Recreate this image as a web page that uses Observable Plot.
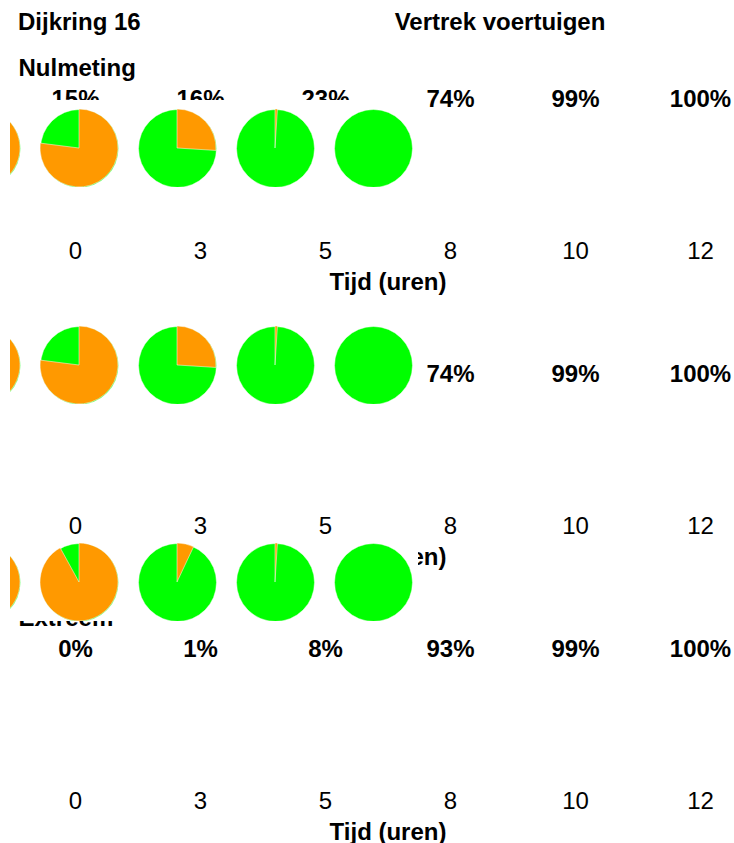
<!DOCTYPE html>
<html>
<head>
<meta charset="utf-8">
<script src="https://cdn.jsdelivr.net/npm/d3@7"></script>
<script src="https://cdn.jsdelivr.net/npm/@observablehq/plot@0.6"></script>
<style>
  body { margin: 0; background: #fff; font-family: "Liberation Sans", Arial, sans-serif; }
  #page { position: relative; width: 734px; height: 843px; overflow: hidden; background: #fff; }
  .hdr { position: absolute; font-weight: bold; font-size: 24px; line-height: 1; white-space: nowrap; color: #000; }
  .panel, .overlay { position: absolute; }
  .overlay svg { overflow: hidden; }
</style>
</head>
<body>
<div id="page"></div>
<script>
// ---- data ----
const chartTitle = "Dijkring 16";
const chartSubtitle = "Vertrek voertuigen";
const xLabel = "Tijd (uren)";
const times = ["0", "3", "5", "8", "10", "12"];
const scenarioNames = ["Nulmeting", "", "Extreem"];
const pctNulmeting = [15, 16, 23, 74, 99, 100];
const pctScenario2 = [15, 16, 23, 74, 99, 100];
const pctExtreem = [0, 1, 8, 93, 99, 100];
const colorDeparted = "#00ff00";
const colorRemaining = "#ff9900";

const seriesList = [pctNulmeting, pctScenario2, pctExtreem];
const font = "Liberation Sans, Arial, sans-serif";
const page = document.getElementById("page");

// header
const t = document.createElement("div");
t.className = "hdr"; t.textContent = chartTitle;
t.style.left = "18px"; t.style.top = "10px";
page.appendChild(t);
const s = document.createElement("div");
s.className = "hdr"; s.textContent = chartSubtitle;
s.style.left = "500px"; s.style.top = "10px"; s.style.transform = "translateX(-50%)";
page.appendChild(s);

const panelTops = [40, 315, 590];
const overlayTops = [99.5, 316.8, 534];

function wedgeMark(data, radius) {
  return (index, scales, values, dimensions) => {
    const g = d3.create("svg:g");
    const cy = (dimensions.marginTop + dimensions.height - dimensions.marginBottom) / 2;
    const arc = d3.arc().innerRadius(0).outerRadius(radius);
    for (const d of data) {
      const rem = (100 - d.v) / 100;
      if (rem <= 0) continue;
      g.append("path")
        .attr("transform", `translate(${scales.x(d.t)},${cy})`)
        .attr("d", arc({startAngle: 0, endAngle: rem * 2 * Math.PI}))
        .attr("fill", colorRemaining)
        .attr("stroke", "#fff")
        .attr("stroke-width", 0.5);
    }
    return g.node();
  };
}

seriesList.forEach((vals, k) => {
  const data = times.map((tt, i) => ({t: tt, v: vals[i]}));
  const chart = Plot.plot({
    width: 734,
    height: 253,
    marginTop: 0,
    marginLeft: 75,
    marginRight: 34,
    marginBottom: 55,
    x: {type: "point", domain: times, range: [75, 700], padding: 0},
    style: {fontFamily: font, fontSize: "24px", background: "transparent", color: "#000", overflow: "visible"},
    marks: [
      Plot.axisX({tickSize: 0, tickPadding: 3, fontSize: 24, label: null}),
      Plot.text([scenarioNames[k]], {frameAnchor: "top-left", dx: -57, dy: 35, lineAnchor: "bottom", textAnchor: "start", fontWeight: "bold", fontSize: 24}),
      Plot.text(data, {x: "t", text: d => d.v + "%", frameAnchor: "top", dy: 66, lineAnchor: "bottom", fontWeight: "bold", fontSize: 24}),
      Plot.text([xLabel], {frameAnchor: "bottom", dy: 51, lineAnchor: "bottom", fontWeight: "bold", fontSize: 24})
    ]
  });
  const wrap = document.createElement("div");
  wrap.className = "panel";
  wrap.style.left = "0px";
  wrap.style.top = panelTops[k] + "px";
  wrap.appendChild(chart);
  page.appendChild(wrap);
});

seriesList.forEach((vals, k) => {
  const data = times.map((tt, i) => ({t: tt, v: vals[i]}));
  const pies = Plot.plot({
    width: 408,
    height: 87,
    marginTop: 9,
    marginBottom: 0,
    marginLeft: 0,
    marginRight: 0,
    x: {type: "point", domain: times, range: [-128.3, 363.3], padding: 0, axis: null},
    style: {background: "white", overflow: "hidden"},
    marks: [
      Plot.dot(data, {x: "t", r: 39, fill: colorDeparted, stroke: "#fff", strokeWidth: 0.5}),
      wedgeMark(data, 39)
    ]
  });
  const wrap = document.createElement("div");
  wrap.className = "overlay";
  wrap.style.left = "10px";
  wrap.style.top = overlayTops[k] + "px";
  wrap.appendChild(pies);
  page.appendChild(wrap);
});
</script>
</body>
</html>
